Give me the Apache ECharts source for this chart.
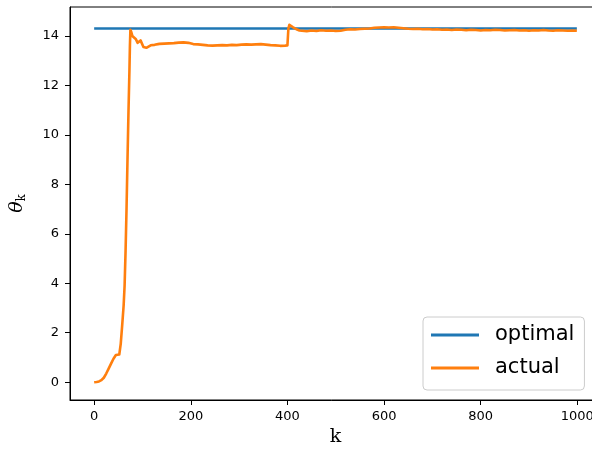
<!DOCTYPE html>
<html>
<head>
<meta charset="utf-8">
<script src="https://cdn.jsdelivr.net/npm/echarts@6/dist/echarts.min.js"></script>
<style>
  html, body { margin: 0; padding: 0; background: #ffffff; }
  #chart { width: 592px; height: 452px; }
</style>
</head>
<body>
<div id="chart"></div>
<script>
// Tick positions on both axes
const xTicks = [0, 200, 400, 600, 800, 1000];
const yTicks = [0, 2, 4, 6, 8, 10, 12, 14];

// Optimal parameter value (constant over all iterations)
const optimalK = [0, 999];
const optimalTheta = [14.3, 14.3];

// Estimated parameter per iteration k
const actualK = [
  0, 5, 10, 15, 20, 25, 30, 35, 40, 45, 48, 52, 55, 58, 61, 63, 65, 67, 69, 71,
  73, 74, 75, 77, 79, 82, 86, 90, 93, 96, 99, 102, 105, 108, 112, 117, 125, 135,
  145, 155, 165, 175, 185, 195, 205, 215, 225, 235, 245, 255, 265, 275, 285, 295,
  305, 315, 325, 335, 345, 355, 365, 375, 385, 395, 400, 402, 404, 407, 411, 415,
  420, 425, 430, 440, 450, 460, 470, 480, 490, 500, 510, 520, 530, 540, 550, 560,
  570, 580, 590, 600, 610, 620, 630, 640, 650, 660, 670, 680, 690, 700, 710, 720,
  730, 740, 750, 760, 770, 780, 790, 800, 810, 820, 830, 840, 850, 860, 870, 880,
  890, 900, 910, 920, 930, 940, 950, 960, 970, 980, 990, 999
];
const actualTheta = [
  0.00, 0.01, 0.03, 0.08, 0.18, 0.35, 0.55, 0.75, 0.95, 1.10, 1.16, 1.12, 1.55, 2.30, 3.10, 3.90, 5.30, 7.00, 9.00, 10.90,
  12.60, 13.60, 14.25, 14.15, 14.00, 13.92, 13.88, 13.72, 13.72, 13.82, 13.78, 13.55, 13.48, 13.52, 13.55, 13.62, 13.64, 13.68,
  13.69, 13.70, 13.71, 13.73, 13.74, 13.72, 13.67, 13.66, 13.64, 13.62, 13.61, 13.62, 13.63, 13.62, 13.64, 13.63,
  13.65, 13.66, 13.65, 13.66, 13.67, 13.65, 13.63, 13.62, 13.60, 13.61, 13.62, 14.30, 14.45, 14.42, 14.36, 14.30,
  14.26, 14.22, 14.21, 14.19, 14.22, 14.20, 14.23, 14.21, 14.22, 14.20, 14.21, 14.25, 14.27, 14.26, 14.28, 14.29,
  14.30, 14.33, 14.34, 14.35, 14.34, 14.35, 14.33, 14.31, 14.29, 14.28, 14.29, 14.27, 14.28, 14.26, 14.27, 14.25,
  14.26, 14.24, 14.26, 14.25, 14.23, 14.25, 14.24, 14.22, 14.24, 14.23, 14.25, 14.24, 14.22, 14.23, 14.24, 14.22,
  14.23, 14.21, 14.23, 14.22, 14.24, 14.22, 14.21, 14.23, 14.22, 14.21, 14.22, 14.21
];

const pairs = (xs, ys) => xs.map((x, i) => [x, ys[i]]);

const chart = echarts.init(document.getElementById('chart'), null, { renderer: 'canvas' });

const tickFont = { fontFamily: 'DejaVu Sans', fontSize: 13, color: '#000000' };

chart.setOption({
  animation: false,
  backgroundColor: '#ffffff',
  grid: {
    left: 70, top: 7, width: 531, height: 393,
    outerBoundsMode: 'none',
    show: true, borderColor: '#000000', borderWidth: 1, backgroundColor: 'transparent'
  },
  legend: {
    orient: 'vertical',
    left: 423, top: 317,
    padding: [6, 10, 10, 8],
    itemWidth: 48, itemHeight: 3, itemGap: 9,
    icon: 'rect',
    borderColor: '#cccccc', borderWidth: 1, borderRadius: 4,
    backgroundColor: 'rgba(255,255,255,0.8)',
    textStyle: { fontFamily: 'DejaVu Sans', fontSize: 21, lineHeight: 24, color: '#000000', padding: [0, 0, 0, 11] },
    data: ['optimal', 'actual']
  },
  xAxis: {
    type: 'value', min: -50, max: 1049,
    name: 'k', nameLocation: 'middle', nameGap: 27,
    nameTextStyle: { fontFamily: 'DejaVu Serif', fontSize: 19, color: '#000000' },
    axisLine: { show: true, onZero: false, lineStyle: { color: '#000000', width: 1 } },
    axisTick: { show: true, length: 5, customValues: xTicks, lineStyle: { color: '#000000', width: 1 } },
    axisLabel: Object.assign({ margin: 10, customValues: xTicks, formatter: v => String(v) }, tickFont),
    splitLine: { show: false }
  },
  yAxis: {
    type: 'value', min: -0.72, max: 15.17,
    name: '{t|θ}{s|k}', nameLocation: 'middle', nameGap: 42, nameRotate: 90,
    nameTextStyle: {
      rich: {
        t: { fontFamily: 'DejaVu Serif', fontStyle: 'italic', fontSize: 19, lineHeight: 22, color: '#000000' },
        s: { fontFamily: 'DejaVu Serif', fontSize: 12, lineHeight: 22, verticalAlign: 'bottom', color: '#000000', padding: [4, 0, 0, 0] }
      }
    },
    axisLine: { show: true, onZero: false, lineStyle: { color: '#000000', width: 1 } },
    axisTick: { show: true, length: 5, customValues: yTicks, lineStyle: { color: '#000000', width: 1 } },
    axisLabel: Object.assign({ margin: 11, customValues: yTicks }, tickFont),
    splitLine: { show: false }
  },
  series: [
    {
      name: 'optimal', type: 'line', data: pairs(optimalK, optimalTheta),
      symbol: 'none', color: '#1f77b4',
      lineStyle: { width: 2.6, color: '#1f77b4' }, z: 2
    },
    {
      name: 'actual', type: 'line', data: pairs(actualK, actualTheta),
      symbol: 'none', color: '#ff7f0e',
      lineStyle: { width: 2.6, color: '#ff7f0e', join: 'round' }, z: 3
    }
  ]
});
</script>
</body>
</html>
